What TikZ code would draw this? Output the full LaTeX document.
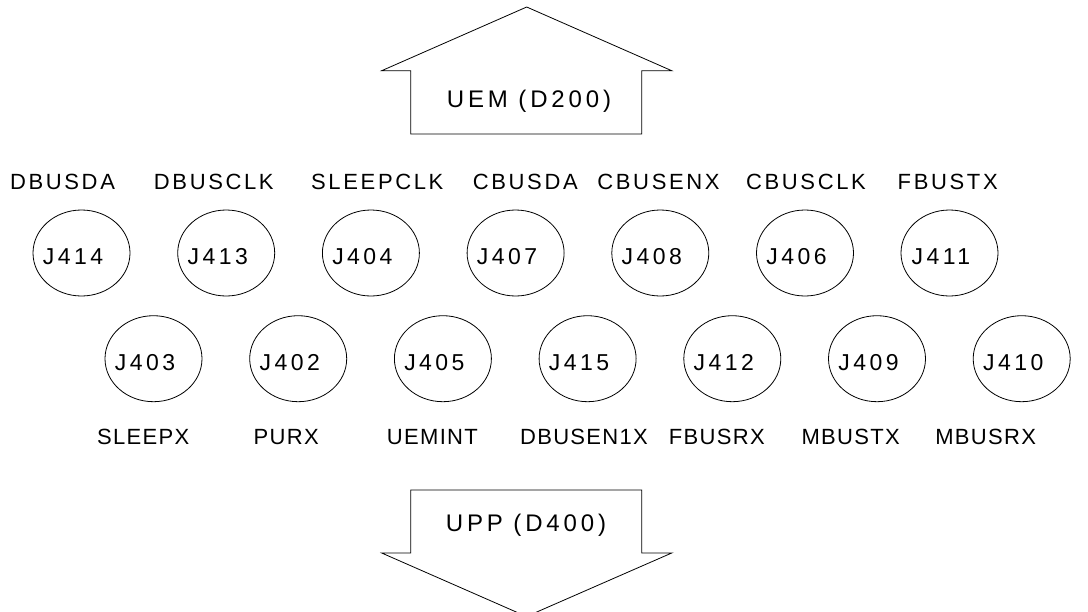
\documentclass[tikz,border=0pt]{standalone}
\usepackage{fontspec}
\setmainfont{Liberation Sans}
\usetikzlibrary{shapes.geometric}

\tikzset{
  outline/.style={line width=0.8pt},
  jack/.style={draw,ellipse,line width=0.8pt,minimum width=97pt,
    minimum height=86pt,inner sep=0pt},
  jtext/.style={font=\fontsize{23}{27}\selectfont\addfontfeatures{LetterSpace=15},
    inner sep=0pt,anchor=base},
  sig/.style={font=\fontsize{22}{26}\selectfont\addfontfeatures{LetterSpace=12},
    inner sep=0pt,anchor=base},
  sigb/.style={font=\fontsize{22}{26}\selectfont\addfontfeatures{LetterSpace=6},
    inner sep=0pt,anchor=base},
  board/.style={font=\fontsize{24}{28}\selectfont\addfontfeatures{LetterSpace=16},
    inner sep=0pt,anchor=base},
}

\begin{document}
\begin{tikzpicture}[x=1pt,y=-1pt]
  \useasboundingbox (0,0) rectangle (1088,611);

  % board above
  \draw[outline] (526.7,7) -- (671.7,70.7) -- (641.7,70.7) -- (641.7,134)
    -- (410.7,134) -- (410.7,70.7) -- (381.7,70.7) -- cycle;
  \node[board] (uem) at (529,107.3) {UEM (D200)};

  % top row of jacks
  \node[sig] (dbusda) at (62.5,189) {DBUSDA};
  \node[sig] (dbusclk) at (213.8,189) {DBUSCLK};
  \node[sig] (sleepclk) at (377.3,189) {SLEEPCLK};
  \node[sig] (cbusda) at (525.3,189) {CBUSDA};
  \node[sig] (cbusenx) at (658.5,189) {CBUSENX};
  \node[sig] (cbusclk) at (806,189) {CBUSCLK};
  \node[sig] (fbustx) at (947.7,189) {FBUSTX};

  \node[jack,label={[jtext,name=t414,xshift=-8.5pt,yshift=-3.7pt]center:J414}] (j414) at (81.5,253) {};
  \node[jack,label={[jtext,name=t413,xshift=-8.5pt,yshift=-3.7pt]center:J413}] (j413) at (226.2,253) {};
  \node[jack,label={[jtext,name=t404,xshift=-8.5pt,yshift=-3.7pt]center:J404}] (j404) at (370.9,253) {};
  \node[jack,label={[jtext,name=t407,xshift=-8.5pt,yshift=-3.7pt]center:J407}] (j407) at (515.6,253) {};
  \node[jack,label={[jtext,name=t408,xshift=-8.5pt,yshift=-3.7pt]center:J408}] (j408) at (660.3,253) {};
  \node[jack,label={[jtext,name=t406,xshift=-8.5pt,yshift=-3.7pt]center:J406}] (j406) at (805,253) {};
  \node[jack,label={[jtext,name=t411,xshift=-8.5pt,yshift=-3.7pt]center:J411}] (j411) at (949.5,253) {};

  % bottom row of jacks
  \node[jack,label={[jtext,name=t403,xshift=-8.5pt,yshift=-3.7pt]center:J403}] (j403) at (153.5,358.7) {};
  \node[jack,label={[jtext,name=t402,xshift=-8.5pt,yshift=-3.7pt]center:J402}] (j402) at (298.2,358.7) {};
  \node[jack,label={[jtext,name=t405,xshift=-8.5pt,yshift=-3.7pt]center:J405}] (j405) at (442.9,358.7) {};
  \node[jack,label={[jtext,name=t415,xshift=-8.5pt,yshift=-3.7pt]center:J415}] (j415) at (587.6,358.7) {};
  \node[jack,label={[jtext,name=t412,xshift=-8.5pt,yshift=-3.7pt]center:J412}] (j412) at (732.3,358.7) {};
  \node[jack,label={[jtext,name=t409,xshift=-8.5pt,yshift=-3.7pt]center:J409}] (j409) at (877,358.7) {};
  \node[jack,label={[jtext,name=t410,xshift=-8.5pt,yshift=-3.7pt]center:J410}] (j410) at (1021.7,358.7) {};

  \node[sigb] (sleepx) at (143.2,444) {SLEEPX};
  \node[sigb] (purx) at (286.2,444) {PURX};
  \node[sigb] (uemint) at (432.4,444) {UEMINT};
  \node[sigb] (dbusenx) at (584,444) {DBUSEN1X};
  \node[sigb] (fbusrx) at (716.9,444) {FBUSRX};
  \node[sigb] (mbustx) at (850.7,444) {MBUSTX};
  \node[sigb] (mbusrx) at (985.7,444) {MBUSRX};

  % board below
  \draw[outline] (410.7,490) -- (641.7,490) -- (641.7,553) -- (671.7,553)
    -- (526.5,616.5) -- (381.7,553) -- (410.7,553) -- cycle;
  \node[board] (upp) at (526,531.7) {UPP (D400)};
\end{tikzpicture}
\end{document}
